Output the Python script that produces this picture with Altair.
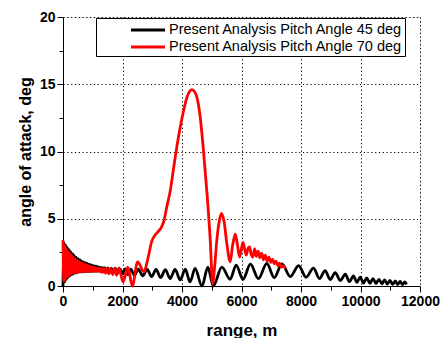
import altair as alt
import pandas as pd

# ---- data ----
black_x = [0, 30, 60, 90, 120, 150, 180, 210, 240, 270, 300, 330, 360, 390, 420, 450, 480, 510,
           540, 570, 600, 630, 660, 690, 720, 750, 780, 810, 840, 870, 900, 930, 960, 990, 1020,
           1050, 1080, 1110, 1140, 1170, 1200, 1240, 1280, 1320, 1360, 1400, 1450, 1500, 1560,
           1620, 1690, 1760, 1840, 1920, 2000, 2090, 2180, 2280, 2400, 2530, 2680, 2830, 2980,
           3130, 3280, 3440, 3600, 3770, 3940, 4110, 4270, 4440, 4670, 4870, 5050, 5340, 5620,
           5820, 6050, 6300, 6570, 6850, 7100, 7360, 7640, 7920, 8170, 8420, 8620, 8810, 8980,
           9150, 9320, 9490, 9630, 9760, 9880, 9990, 10100, 10210, 10320, 10420, 10520, 10620,
           10720, 10810, 10900, 10990, 11080, 11170, 11250, 11330, 11410, 11490, 11550]
black_y = [0.0, 3.25, 0.3, 3.05, 0.5, 2.85, 0.65, 2.68, 0.76, 2.52, 0.85, 2.38, 0.91, 2.25, 0.96,
           2.14, 1.0, 2.04, 1.02, 1.95, 1.04, 1.87, 1.05, 1.8, 1.06, 1.74, 1.07, 1.68, 1.08, 1.63,
           1.08, 1.58, 1.09, 1.54, 1.09, 1.5, 1.1, 1.47, 1.1, 1.44, 1.1, 1.41, 1.1, 1.38, 1.08,
           1.36, 1.06, 1.34, 1.02, 1.32, 0.98, 1.3, 0.95, 1.28, 0.9, 1.27, 0.85, 1.26, 0.8, 1.25,
           0.75, 1.24, 0.7, 1.23, 0.62, 1.22, 0.55, 1.23, 0.45, 1.25, 0.3, 1.3, 0.0, 1.4, 0.0,
           1.4, 0.5, 1.55, 0.5, 1.62, 0.55, 1.68, 0.62, 1.65, 0.7, 1.52, 0.65, 1.33, 0.55, 1.15,
           0.48, 1.0, 0.4, 0.88, 0.32, 0.76, 0.28, 0.66, 0.22, 0.6, 0.2, 0.55, 0.18, 0.5, 0.16,
           0.45, 0.14, 0.42, 0.12, 0.38, 0.1, 0.35, 0.1, 0.3, 0.12]

red_x = [0, 30, 60, 90, 120, 150, 180, 210, 240, 270, 300, 330, 360, 390, 420, 450, 480, 510,
         540, 570, 600, 630, 660, 690, 720, 750, 780, 810, 840, 870, 900, 930, 960, 990, 1020,
         1050, 1080, 1110, 1140, 1170, 1210, 1250, 1290, 1330, 1380, 1430, 1480, 1540, 1600,
         1670, 1740, 1800, 1880, 2020, 2180, 2330, 2510, 2720, 2850, 2980, 3100, 3200, 3315,
         3400, 3490, 3600, 3720, 3830, 3940, 4050, 4170, 4250, 4330, 4420, 4500, 4610, 4720,
         4840, 4950, 5030, 5100, 5170, 5250, 5330, 5420, 5510, 5620, 5700, 5790, 5860, 5935,
         6000, 6050, 6110, 6160, 6220, 6270, 6330, 6380, 6440, 6500, 6560, 6620, 6680, 6740,
         6800, 6860, 6920, 6980, 7040, 7100, 7160, 7220, 7280, 7340, 7400, 7480]
red_y = [3.4, 0.35, 3.0, 0.55, 2.75, 0.7, 2.55, 0.8, 2.4, 0.88, 2.25, 0.94, 2.12, 0.98, 2.0,
         1.01, 1.9, 1.03, 1.82, 1.05, 1.75, 1.06, 1.68, 1.07, 1.62, 1.08, 1.57, 1.08, 1.52,
         1.09, 1.48, 1.09, 1.44, 1.1, 1.41, 1.1, 1.38, 1.1, 1.35, 1.08, 1.32, 1.05, 1.3, 1.0,
         1.3, 0.95, 1.3, 0.9, 1.3, 0.85, 1.32, 0.8, 1.35, 0.3, 1.4, 0.0, 1.8, 1.05, 2.0, 3.3,
         3.8, 4.05, 4.4, 4.9, 5.9, 7.0, 8.8, 10.4, 11.8, 13.0, 14.05, 14.45, 14.6, 14.45, 14.05,
         12.6, 10.1, 6.9, 3.4, 0.15, 1.5, 3.4, 4.8, 5.4, 4.7, 3.1, 1.8, 3.0, 3.85, 3.1, 2.15,
         2.8, 3.25, 2.7, 2.3, 2.8, 2.9, 2.3, 2.15, 2.75, 2.2, 2.6, 2.1, 2.45, 1.95, 2.3, 1.85,
         2.15, 1.75, 2.0, 1.65, 1.85, 1.5, 1.7, 1.4, 1.5, 1.3]

series_names = ["Present Analysis Pitch Angle 45 deg", "Present Analysis Pitch Angle 70 deg"]
series_colors = ["#000000", "#ff0000"]

x_major = [0, 2000, 4000, 6000, 8000, 10000, 12000]
x_minor = [1000, 3000, 5000, 7000, 9000, 11000]
y_major = [0, 5, 10, 15, 20]
y_minor = [2.5, 7.5, 12.5, 17.5]

rows = []
for i, (xv, yv) in enumerate(zip(black_x, black_y)):
    rows.append({"range": xv, "aoa": yv, "series": series_names[0], "order": i})
for i, (xv, yv) in enumerate(zip(red_x, red_y)):
    rows.append({"range": xv, "aoa": yv, "series": series_names[1], "order": i})
df = pd.DataFrame(rows)

FONT = "Liberation Sans"
PAD = "\u00a0" * 13

xscale = alt.Scale(domain=[0, 12000], nice=False, zero=False)
yscale = alt.Scale(domain=[0, 20], nice=False, zero=False)

lines = alt.Chart(df).mark_line(strokeWidth=2.8, interpolate="monotone").encode(
    x=alt.X("range:Q", scale=xscale,
            axis=alt.Axis(values=x_major, title="range, m", format="d",
                          grid=True, gridDash=[1.2, 2.6], gridColor="#000000", gridWidth=1,
                          tickSize=6, tickColor="#000", domainColor="#000",
                          labelFlush=False, labelOverlap=False,
                          labelFont=FONT, labelFontSize=14, labelFontWeight="bold",
                          labelColor="#000", labelPadding=2,
                          titleFont=FONT, titleFontSize=17, titleFontWeight="bold",
                          titleColor="#000", titlePadding=14, orient="bottom")),
    y=alt.Y("aoa:Q", scale=yscale,
            axis=alt.Axis(values=y_major, title="angle of attack, deg",
                          grid=True, gridDash=[1.2, 2.6], gridColor="#000000", gridWidth=1,
                          tickSize=6, tickColor="#000", domainColor="#000",
                          labelFlush=False, labelOverlap=False,
                          labelFont=FONT, labelFontSize=14, labelFontWeight="bold",
                          labelColor="#000", labelPadding=2,
                          titleFont=FONT, titleFontSize=16, titleFontWeight="bold",
                          titleColor="#000", titlePadding=6, orient="left")),
    color=alt.Color("series:N",
                    scale=alt.Scale(domain=series_names, range=series_colors),
                    legend=alt.Legend(title=None, orient="none", legendX=33, legendY=1,
                                      strokeColor="#000", fillColor="#fff", padding=2,
                                      symbolType="M-2,0H2", symbolSize=289,
                                      symbolStrokeWidth=3, symbolOffset=40,
                                      labelFont=FONT, labelFontSize=14.5, labelColor="#000",
                                      labelOffset=11, rowPadding=0, labelLimit=400,
                                      labelExpr="datum.label + '" + PAD + "'")),
    order=alt.Order("order:Q"),
)

minor = alt.Chart(df).mark_line(strokeOpacity=0).encode(
    x=alt.X("range:Q", scale=xscale,
            axis=alt.Axis(values=x_minor, labels=False, title=None, grid=False, domain=False,
                          tickSize=4, tickColor="#000", orient="bottom")),
    y=alt.Y("aoa:Q", scale=yscale,
            axis=alt.Axis(values=y_minor, labels=False, title=None, grid=False, domain=False,
                          tickSize=4, tickColor="#000", orient="left")),
    detail="series:N",
)

chart = alt.layer(minor, lines).resolve_axis(x="independent", y="independent").properties(
    width=357, height=269,
    autosize=alt.AutoSizeParams(type="none"),
    padding={"left": 63, "top": 17, "right": 24, "bottom": 52},
).configure_view(stroke="#000", strokeWidth=1.2).configure(background="#ffffff")

chart.save("out.html", embed_options={"renderer": "svg", "actions": False})
